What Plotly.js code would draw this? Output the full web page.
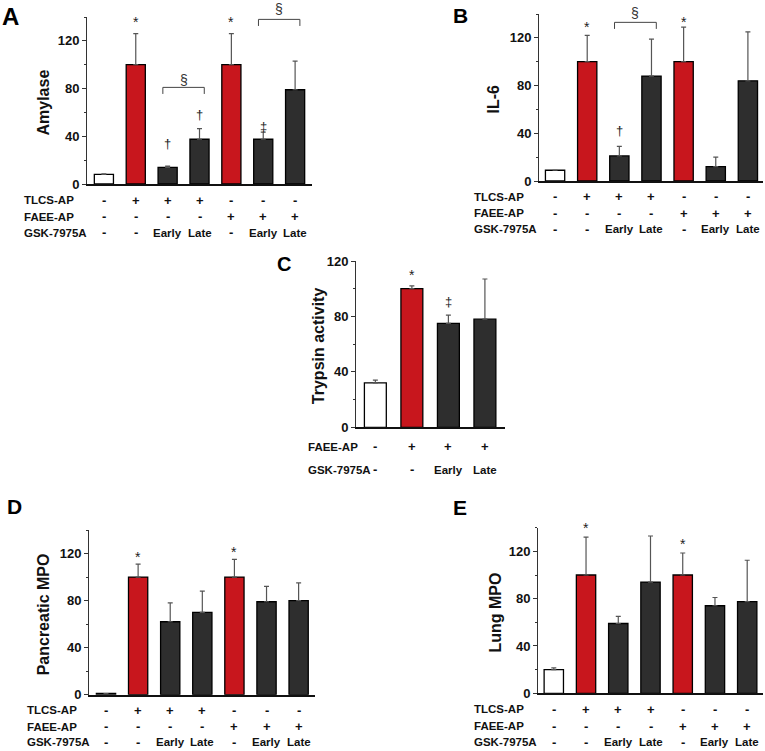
<!DOCTYPE html>
<html>
<head>
<meta charset="utf-8">
<script src="https://cdn.plot.ly/plotly-3.0.1.min.js"></script>
<style>html,body{margin:0;padding:0;background:#fff}#chart{width:765px;height:751px}</style>
</head>
<body>
<div id="chart"></div>
<script>
// ---------- data ----------
const groups7 = [0, 1, 2, 3, 4, 5, 6];
const groups4 = [0, 1, 2, 3];

const amylase    = [8, 100, 14, 37.5, 100, 37.5, 79];
const amylaseErr = [0.6, 26, 1, 9, 26, 6, 24];

const il6    = [9, 100, 21, 88, 100, 12, 84];
const il6Err = [0, 22, 8, 31, 29, 8, 41];

const trypsin    = [32, 100, 75, 78];
const trypsinErr = [2, 2, 6, 29];

const pancMPO    = [1, 100, 62, 70, 100, 79, 80];
const pancMPOErr = [0, 11, 16, 18, 15, 13, 15];

const lungMPO    = [20, 100, 59, 94, 100, 74, 77.5];
const lungMPOErr = [1.5, 32, 6, 39, 18.6, 7, 35];

const rowTLCS  = ["-", "+", "+", "+", "-", "-", "-"];
const rowFAEE  = ["-", "-", "-", "-", "+", "+", "+"];
const rowGSK   = ["-", "-", "Early", "Late", "-", "Early", "Late"];
const rowFAEE4 = ["-", "+", "+", "+"];
const rowGSK4  = ["-", "-", "Early", "Late"];

// significance marks: [bar index, symbol, y value]
const marksA = [[1, "*", 138], [4, "*", 138], [2, "†", 34], [3, "†", 58], [5, "‡", 48]];
const marksB = [[1, "*", 132], [4, "*", 136], [2, "†", 42]];
const marksC = [[1, "*", 112], [2, "‡", 91]];
const marksD = [[1, "*", 120], [4, "*", 124]];
const marksE = [[1, "*", 142], [4, "*", 129]];
// brackets: [from bar, to bar, y level, label y]
const bracketsA = [[2, 3, 81, 87], [5, 6, 138, 147]];
const bracketsB = [[2, 3, 133, 140.5]];

// ---------- style ----------
const WHITE = "#ffffff", RED = "#c8161d", DARK = "#2e2e2e";
const colors7 = [WHITE, RED, DARK, DARK, RED, DARK, DARK];
const colors4 = [WHITE, RED, DARK, DARK];
const FONT = "Liberation Sans, Arial, sans-serif";
const W = 765, H = 751;
const px2x = p => p / W;
const px2y = p => 1 - p / H;

const panels = [
  {id: "", letter: "A", title: "Amylase", x: groups7, y: amylase, e: amylaseErr, c: colors7,
   xd: [87, 312], yd: [17, 184], xr: [-0.53, 6.53], yr: [0, 140],
   marks: marksA, brackets: bracketsA, titleX: 43, letterXY: [10, 16], letterSize: 24,
   rows: [["TLCS-AP", rowTLCS, 200], ["FAEE-AP", rowFAEE, 216.5], ["GSK-7975A", rowGSK, 233]], rowX: 22},
  {id: "2", letter: "B", title: "IL-6", x: groups7, y: il6, e: il6Err, c: colors7,
   xd: [539, 763], yd: [14, 181], xr: [-0.5, 6.47], yr: [0, 140],
   marks: marksB, brackets: bracketsB, titleX: 493, letterXY: [460, 15], letterSize: 21,
   rows: [["TLCS-AP", rowTLCS, 197], ["FAEE-AP", rowFAEE, 213], ["GSK-7975A", rowGSK, 229]], rowX: 472},
  {id: "3", letter: "C", title: "Trypsin activity", x: groups4, y: trypsin, e: trypsinErr, c: colors4,
   xd: [356, 505], yd: [261, 427.3], xr: [-0.53, 3.55], yr: [0, 120],
   marks: marksC, brackets: [], titleX: 318, letterXY: [284, 264], letterSize: 20,
   rows: [["FAEE-AP", rowFAEE4, 446.5], ["GSK-7975A", rowGSK4, 470]], rowX: 306},
  {id: "4", letter: "D", title: "Pancreatic MPO", x: groups7, y: pancMPO, e: pancMPOErr, c: colors7,
   xd: [89, 315], yd: [530, 694.7], xr: [-0.53, 6.51], yr: [0, 140],
   marks: marksD, brackets: [], titleX: 43, letterXY: [14, 506], letterSize: 21,
   rows: [["TLCS-AP", rowTLCS, 710], ["FAEE-AP", rowFAEE, 726.5], ["GSK-7975A", rowGSK, 742]], rowX: 25},
  {id: "5", letter: "E", title: "Lung MPO", x: groups7, y: lungMPO, e: lungMPOErr, c: colors7,
   xd: [538, 763], yd: [527.7, 693.3], xr: [-0.49, 6.49], yr: [0, 140],
   marks: marksE, brackets: [], titleX: 495, letterXY: [460, 507], letterSize: 21,
   rows: [["TLCS-AP", rowTLCS, 709], ["FAEE-AP", rowFAEE, 726], ["GSK-7975A", rowGSK, 742]], rowX: 472}
];

const data = [];
const layout = {
  width: W, height: H, margin: {l: 0, r: 0, t: 0, b: 0},
  paper_bgcolor: "#fff", plot_bgcolor: "rgba(0,0,0,0)",
  showlegend: false, font: {family: FONT, color: "#111"},
  annotations: [], shapes: []
};

panels.forEach(p => {
  const xa = "x" + p.id, ya = "y" + p.id;
  const yd = ya + " domain";
  const top = p.yr[1];
  data.push({
    type: "bar", x: p.x, y: p.y, xaxis: xa, yaxis: ya, width: 0.6,
    marker: {color: p.c, line: {color: "#000", width: 1.3}},
    error_y: {type: "data", symmetric: false, array: p.e, arrayminus: p.e.map(() => 0),
              color: "#555", thickness: 1.2, width: 2.5},
    hoverinfo: "skip", cliponaxis: false
  });
  layout["xaxis" + p.id] = {
    domain: [px2x(p.xd[0]), px2x(p.xd[1])], range: p.xr, anchor: ya,
    showgrid: false, zeroline: false, showticklabels: false, ticks: "",
    showline: true, linecolor: "#111", linewidth: 2, fixedrange: true
  };
  layout["yaxis" + p.id] = {
    domain: [px2y(p.yd[1]), px2y(p.yd[0])], range: p.yr, anchor: xa,
    showgrid: false, zeroline: false, showline: true, linecolor: "#333", linewidth: 1,
    ticks: "outside", ticklen: 4, tickwidth: 1, tickcolor: "#333", dtick: 40, tick0: 0,
    minor: {dtick: 20, ticks: "outside", ticklen: 2, tickcolor: "#333"},
    tickfont: {family: FONT, size: 13, weight: "bold", color: "#111"},
    automargin: false, fixedrange: true
  };
  // y title
  layout.annotations.push({
    xref: "paper", yref: "paper", x: px2x(p.titleX), y: px2y((p.yd[0] + p.yd[1]) / 2 + 2),
    text: p.title, textangle: -90, showarrow: false, xanchor: "center", yanchor: "middle",
    font: {family: FONT, size: 16, weight: "bold", color: "#111"}
  });
  // panel letter
  layout.annotations.push({
    xref: "paper", yref: "paper", x: px2x(p.letterXY[0]), y: px2y(p.letterXY[1]),
    text: p.letter, showarrow: false, xanchor: "center", yanchor: "middle",
    font: {family: FONT, size: p.letterSize, weight: "bold", color: "#000"}
  });
  // significance marks (y in domain fraction so marks above the range still show)
  p.marks.forEach(m => {
    const star = m[1] === "*";
    layout.annotations.push({
      xref: xa, yref: yd, x: m[0], y: m[2] / top, text: m[1], showarrow: false,
      xanchor: "center", yanchor: "middle", yshift: star ? -3 : 0,
      font: {family: FONT, size: star ? 14 : 13, color: "#222"}
    });
  });
  // brackets
  p.brackets.forEach(b => {
    const drop = 5.5;
    layout.shapes.push({
      type: "path", xref: xa, yref: ya,
      path: `M ${b[0] - 0.15} ${b[2] - drop} L ${b[0] - 0.15} ${b[2]} L ${b[1] + 0.15} ${b[2]} L ${b[1] + 0.15} ${b[2] - drop}`,
      line: {color: "#444", width: 1}
    });
    layout.annotations.push({
      xref: xa, yref: yd, x: (b[0] + b[1]) / 2, y: b[3] / top, text: "§", showarrow: false,
      xanchor: "center", yanchor: "middle", font: {family: FONT, size: 14, color: "#333"}
    });
  });
  // table rows
  p.rows.forEach(r => {
    layout.annotations.push({
      xref: "paper", yref: "paper", x: px2x(p.rowX), y: px2y(r[2]), text: r[0], showarrow: false,
      xanchor: "left", yanchor: "middle", font: {family: FONT, size: 11.5, weight: "bold", color: "#111"}
    });
    r[1].forEach((s, i) => {
      layout.annotations.push({
        xref: xa, yref: "paper", x: p.x[i], y: px2y(r[2]), text: s, showarrow: false,
        xanchor: "center", yanchor: "middle",
        font: {family: FONT, size: s.length > 1 ? 11.5 : 13, weight: "bold", color: "#111"}
      });
    });
  });
});

Plotly.newPlot("chart", data, layout, {staticPlot: true, displayModeBar: false});
</script>
</body>
</html>
